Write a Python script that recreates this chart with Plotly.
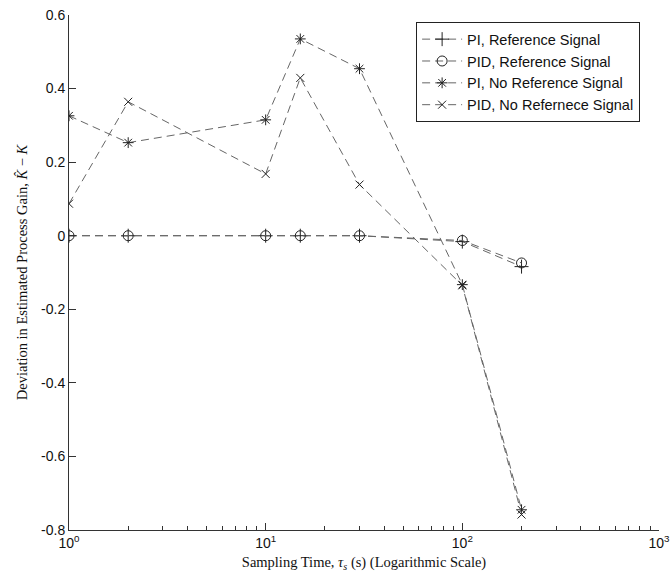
import plotly.graph_objects as go

tau = [1, 2, 10, 15, 30, 100, 200]
pi_ref = [0.0, 0.0, 0.0, 0.0, 0.0, -0.016, -0.084]
pid_ref = [0.0, 0.0, 0.0, 0.0, 0.0, -0.013, -0.074]
pi_noref = [0.326, 0.253, 0.315, 0.535, 0.454, -0.133, -0.745]
pid_noref = [0.087, 0.364, 0.168, 0.429, 0.139, -0.135, -0.758]

names = ["PI, Reference Signal", "PID, Reference Signal",
         "PI, No Reference Signal", "PID, No Refernece Signal"]
symbols = ["cross-thin-open", "circle-open", "asterisk-open", "x-thin-open"]
sizes = [10, 10, 9, 8]
series = [pi_ref, pid_ref, pi_noref, pid_noref]

xticks = [1, 10, 100, 1000]
xticktext = ["10<sup>0</sup>", "10<sup>1</sup>", "10<sup>2</sup>", "10<sup>3</sup>"]
xminor = [m * d for d in (1, 10, 100) for m in range(2, 10)]
yticks = [-0.8, -0.6, -0.4, -0.2, 0, 0.2, 0.4, 0.6]
yticktext = ["-0.8", "-0.6", "-0.4", "-0.2", "0", "0.2", "0.4", "0.6"]

fig = go.Figure()
for nm, sym, sz, ys in zip(names, symbols, sizes, series):
    fig.add_trace(go.Scatter(
        x=tau, y=ys, name=nm, mode="lines+markers",
        line=dict(color="#666666", width=1, dash="8px,5px"),
        marker=dict(symbol=sym, size=sz, color="#222222",
                    line=dict(color="#222222", width=1)),
    ))

fig.update_layout(
    width=672, height=577,
    margin=dict(l=69, r=13, t=15, b=47),
    paper_bgcolor="white", plot_bgcolor="white",
    font=dict(family="Liberation Sans, Arial", size=14, color="#111"),
    legend=dict(x=0.968, y=0.986, xanchor="right", yanchor="top",
                bordercolor="#222", borderwidth=1, bgcolor="white",
                font=dict(size=14.5), tracegroupgap=0, itemwidth=40),
    xaxis=dict(
        type="log", range=[0, 3], automargin=False,
        tickmode="array", tickvals=xticks, ticktext=xticktext,
        ticks="inside", ticklen=7, tickcolor="#333",
        showline=True, linecolor="#333", linewidth=1,
        showgrid=False, zeroline=False,
        minor=dict(tickmode="array", tickvals=xminor, ticks="inside",
                   ticklen=4, tickcolor="#333", showgrid=False),
        title=dict(text="Sampling Time, <i>τ<sub>s</sub></i> (s) (Logarithmic Scale)",
                   font=dict(family="Liberation Serif, DejaVu Serif", size=14.5),
                   standoff=7),
    ),
    yaxis=dict(
        range=[-0.8, 0.6], automargin=False,
        tickvals=yticks, ticktext=yticktext,
        ticks="inside", ticklen=7, tickcolor="#333",
        showline=True, linecolor="#333", linewidth=1,
        showgrid=False, zeroline=False,
        title=dict(text="Deviation in Estimated Process Gain, <i>K̂</i> − <i>K</i>",
                   font=dict(family="Liberation Serif, DejaVu Serif", size=14.5),
                   standoff=10),
    ),
)

fig.write_html("out.html")
